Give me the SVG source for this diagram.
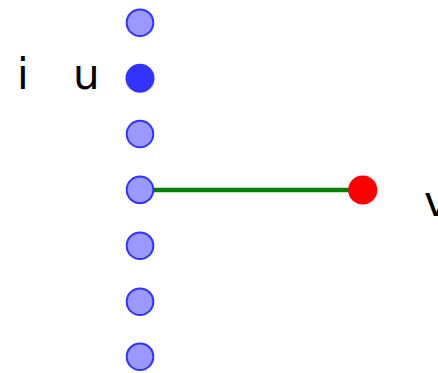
<svg xmlns="http://www.w3.org/2000/svg" width="438" height="373" viewBox="0 0 438 373">
<style>
.n{fill:#9999ff;stroke:#3333ff;stroke-width:2}
.t{font-family:"DejaVu Sans",sans-serif;font-size:42px;fill:#000}
</style>
<rect width="438" height="373" fill="#fff"/>
<g id="connectors">
<line x1="140" y1="190" x2="362.5" y2="190" stroke="#008000" stroke-width="4.5"/>
</g>
<g id="n0"><circle class="n" cx="140" cy="22.7" r="13.3"/></g>
<g id="u"><circle cx="140" cy="78.3" r="14.5" fill="#3333ff"/><text class="t" x="73" y="89.3">u</text></g>
<g id="n2"><circle class="n" cx="140" cy="134" r="13.3"/></g>
<g id="n3"><circle class="n" cx="140" cy="189.8" r="13.3"/></g>
<g id="n4"><circle class="n" cx="140" cy="245.7" r="13.3"/></g>
<g id="n5"><circle class="n" cx="140" cy="301.7" r="13.3"/></g>
<g id="n6"><circle class="n" cx="140" cy="356.7" r="13.3"/></g>
<g id="v"><circle cx="362.7" cy="190" r="14.6" fill="#ff0000"/><text class="t" x="424" y="216">v</text></g>
<g id="i"><text class="t" x="17" y="89.3">i</text></g>
</svg>
